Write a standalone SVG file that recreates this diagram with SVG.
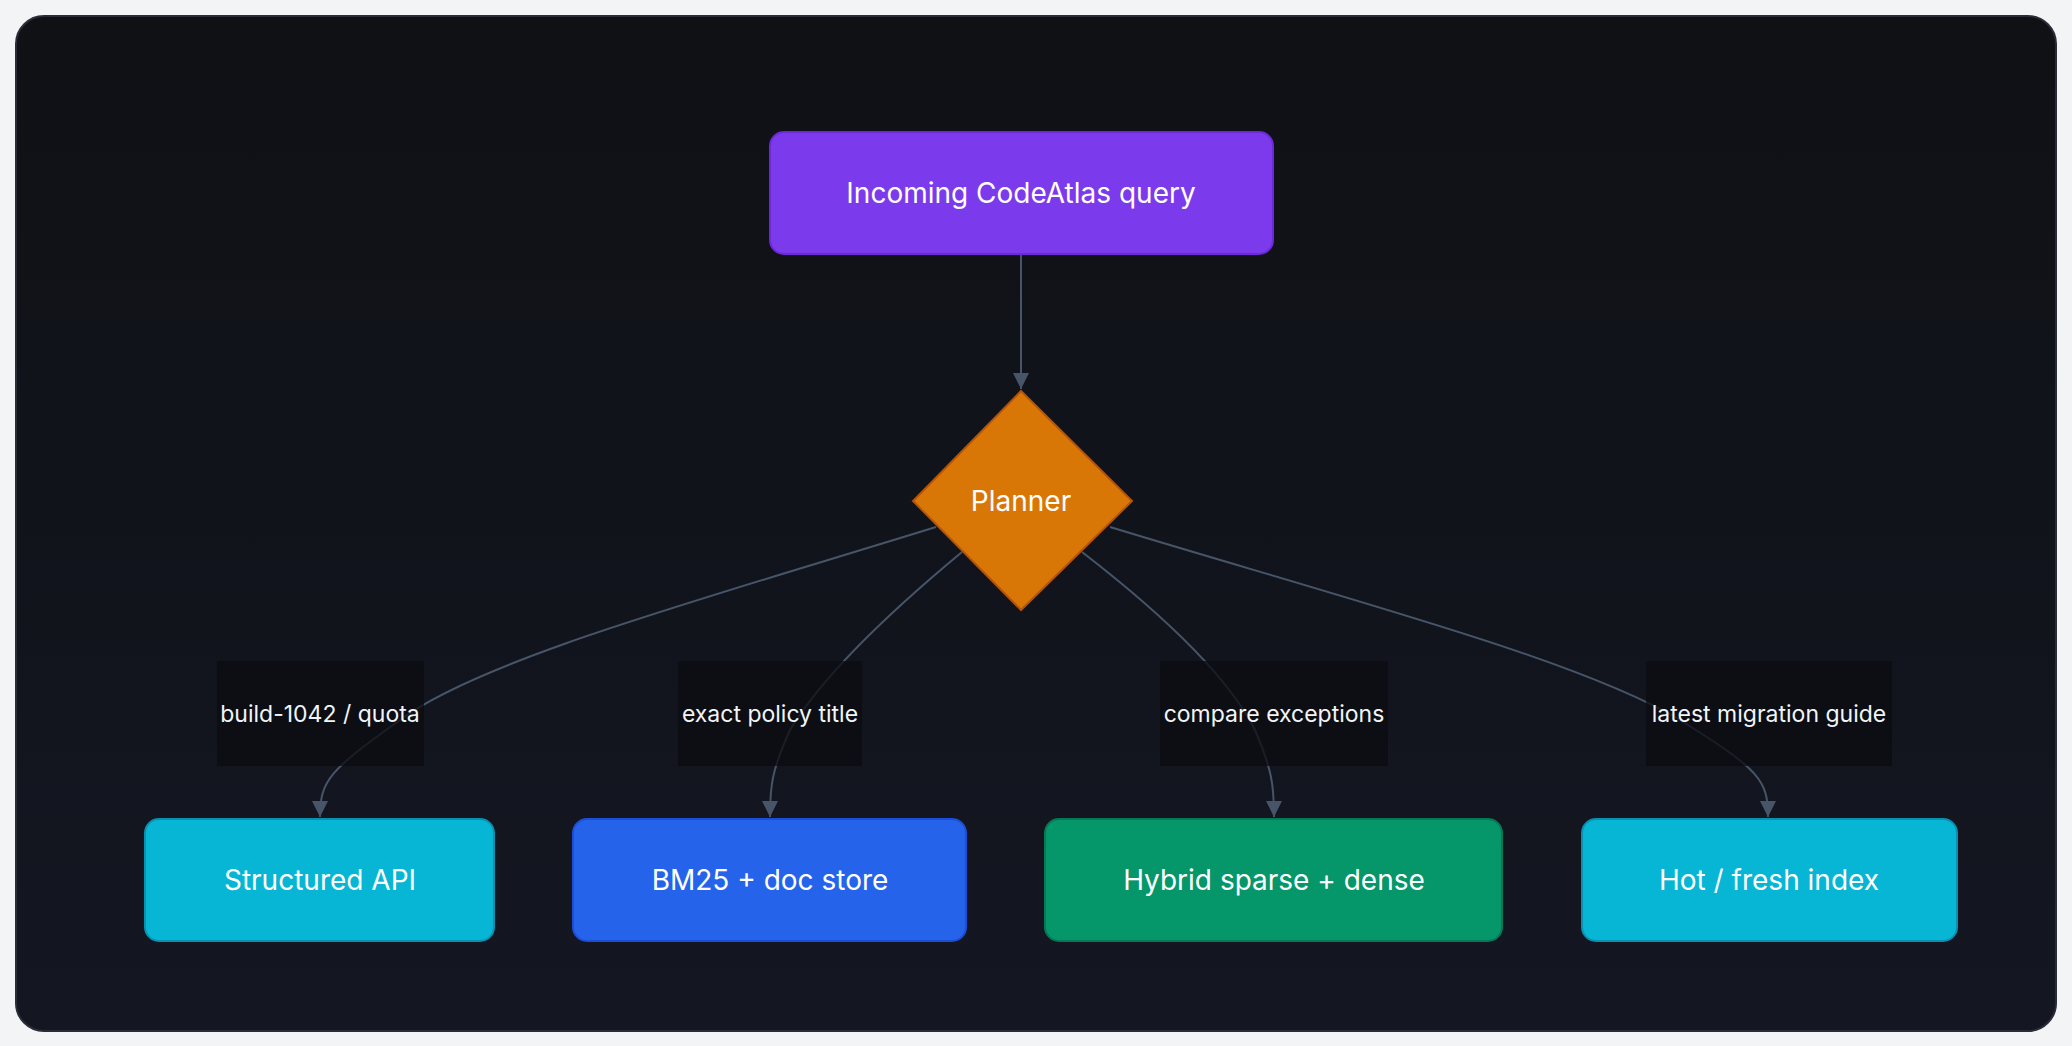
<svg xmlns="http://www.w3.org/2000/svg" width="2072" height="1046" viewBox="0 0 2072 1046">
<defs>
<marker id="ah" viewBox="0 0 10 10" refX="10" refY="5" markerWidth="16" markerHeight="16" markerUnits="userSpaceOnUse" orient="auto"><path d="M0,0 L10,5 L0,10 z" fill="#475569"/></marker>
<linearGradient id="bg" x1="0" y1="0" x2="0" y2="1"><stop offset="0" stop-color="#0f1115"/><stop offset="1" stop-color="#141622"/></linearGradient>
</defs>
<style>
.e{fill:none;stroke:#475569;stroke-width:2}
.lb{fill:#0b0c10;opacity:0.75}
.lt{font-family:Inter,"Noto Sans",sans-serif;font-size:23px;fill:#f1f5f9;text-anchor:middle;dominant-baseline:central}
.nt{font-family:Inter,"Noto Sans",sans-serif;font-size:28px;fill:#ffffff;text-anchor:middle;dominant-baseline:central}
</style>
<rect width="2072" height="1046" fill="#f3f4f6"/>
<rect x="16" y="16" width="2040" height="1015" rx="28" fill="url(#bg)" stroke="#2a2d38" stroke-width="2"/>
<g id="connectors">
<path class="e" d="M1021,254 V389" marker-end="url(#ah)"/>
<path class="e" d="M936,527 C700,600 480,660 400,720 C330,770 320,780 320,817" marker-end="url(#ah)"/>
<path class="e" d="M962,552 C880,620 820,680 790,730 C772,770 770,785 770,817" marker-end="url(#ah)"/>
<path class="e" d="M1082,552 C1170,620 1230,680 1255,730 C1272,770 1274,785 1274,817" marker-end="url(#ah)"/>
<path class="e" d="M1110,527 C1350,600 1580,660 1680,720 C1760,770 1768,780 1768,817" marker-end="url(#ah)"/>
<rect class="lb" x="217" y="661" width="207" height="105"/>
<text class="lt" x="320" y="714">build-1042 / quota</text>
<rect class="lb" x="678" y="661" width="184" height="105"/>
<text class="lt" x="770" y="714">exact policy title</text>
<rect class="lb" x="1160" y="661" width="228" height="105"/>
<text class="lt" x="1274" y="714">compare exceptions</text>
<rect class="lb" x="1646" y="661" width="246" height="105"/>
<text class="lt" x="1769" y="714">latest migration guide</text>
</g>
<g id="query"><rect x="770" y="132" width="503" height="122" rx="14" fill="#7c3aed" stroke="#6d28d9" stroke-width="2"/><text class="nt" x="1021" y="193">Incoming CodeAtlas query</text></g>
<g id="planner"><polygon points="1021,391 1132,501 1021,610 913,501" fill="#d97706" stroke="#b45309" stroke-width="2"/><text class="nt" x="1021" y="501">Planner</text></g>
<g id="structured"><rect x="145" y="819" width="349" height="122" rx="14" fill="#06b6d4" stroke="#0891b2" stroke-width="2"/><text class="nt" x="320" y="880">Structured API</text></g>
<g id="bm25"><rect x="573" y="819" width="393" height="122" rx="14" fill="#2563eb" stroke="#1d4ed8" stroke-width="2"/><text class="nt" x="770" y="880">BM25 + doc store</text></g>
<g id="hybrid"><rect x="1045" y="819" width="457" height="122" rx="14" fill="#059669" stroke="#047857" stroke-width="2"/><text class="nt" x="1274" y="880">Hybrid sparse + dense</text></g>
<g id="hot"><rect x="1582" y="819" width="375" height="122" rx="14" fill="#06b6d4" stroke="#0891b2" stroke-width="2"/><text class="nt" x="1769" y="880">Hot / fresh index</text></g>
</svg>
